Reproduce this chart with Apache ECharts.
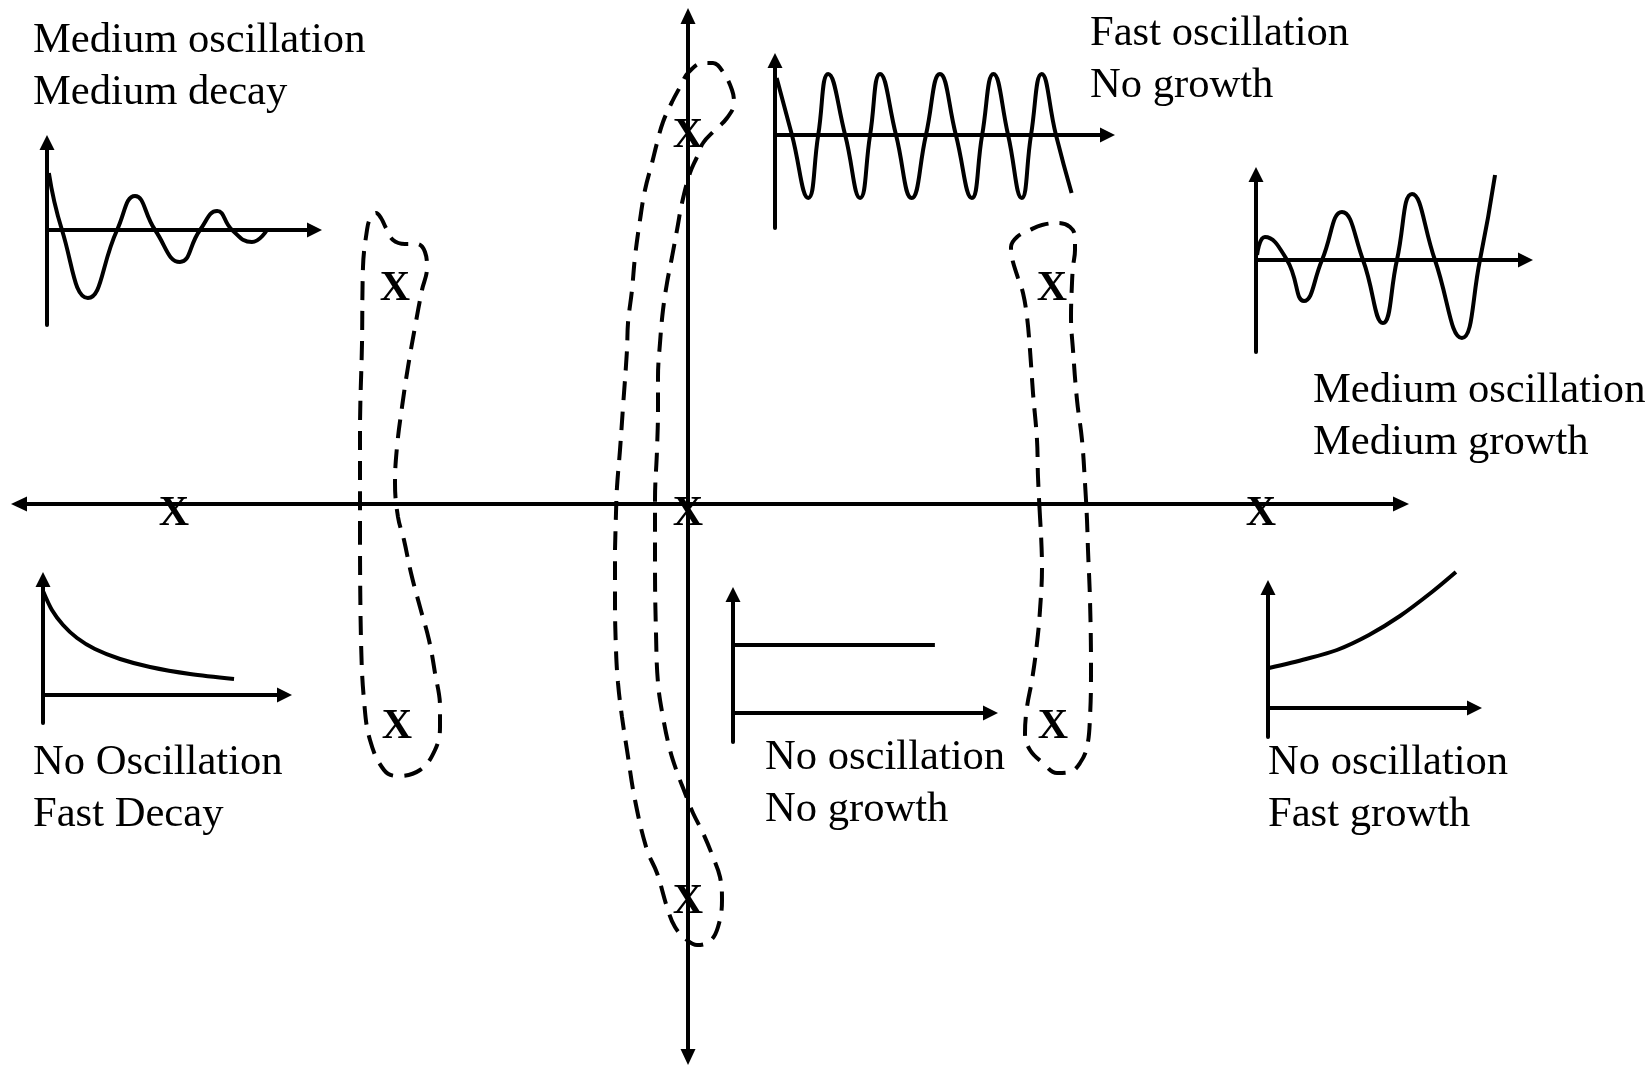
<!DOCTYPE html>
<html>
<head>
<meta charset="utf-8">
<script src="https://cdn.jsdelivr.net/npm/echarts@6/dist/echarts.min.js"></script>
<style>
html,body{margin:0;padding:0;background:#fff;}
#c{width:1651px;height:1066px;}
</style>
</head>
<body>
<div id="c"></div>
<script>
// ---- s-plane data (sigma, omega) ----
const poles = [[-5.14,0],[0,0],[5.73,0],[-2.93,2.25],[-2.91,-2.13],[3.64,2.25],[3.65,-2.13],[0,3.78],[0,-3.88]];
const poleLabel = 'X';

const leftContour = [[-3.28,-0.36],[-3.28,0.71],[-3.26,1.61],[-3.25,2.37],[-3.21,2.74],[-3.18,2.85],[-3.12,2.91],[-3.07,2.86],[-3.02,2.76],[-2.95,2.64],[-2.83,2.60],[-2.71,2.60],[-2.63,2.52],[-2.61,2.36],[-2.66,2.14],[-2.73,1.77],[-2.80,1.37],[-2.86,0.97],[-2.91,0.57],[-2.93,0.21],[-2.90,-0.13],[-2.84,-0.36],[-2.77,-0.69],[-2.68,-1.03],[-2.59,-1.36],[-2.53,-1.69],[-2.48,-2.03],[-2.48,-2.23],[-2.53,-2.46],[-2.68,-2.66],[-2.91,-2.72],[-3.04,-2.66],[-3.18,-2.36],[-3.24,-1.96],[-3.27,-1.36],[-3.28,-0.36]];

const centerContour = [[-0.73,-0.46],[-0.72,-0.09],[-0.71,0.17],[-0.68,0.54],[-0.65,0.97],[-0.61,1.54],[-0.60,1.81],[-0.56,2.14],[-0.53,2.47],[-0.48,2.84],[-0.43,3.14],[-0.36,3.41],[-0.31,3.61],[-0.25,3.82],[-0.16,4.02],[-0.08,4.17],[0,4.31],[0.15,4.41],[0.25,4.41],[0.35,4.32],[0.44,4.14],[0.46,4.01],[0.39,3.86],[0.27,3.74],[0.15,3.61],[0.09,3.47],[0.02,3.31],[-0.06,3.01],[-0.11,2.74],[-0.16,2.47],[-0.21,2.21],[-0.25,1.94],[-0.28,1.61],[-0.30,1.27],[-0.30,0.97],[-0.31,0.54],[-0.33,0.04],[-0.33,-0.63],[-0.32,-1.29],[-0.30,-1.79],[-0.25,-2.13],[-0.18,-2.46],[-0.11,-2.68],[-0.03,-2.89],[0.05,-3.09],[0.15,-3.29],[0.25,-3.53],[0.32,-3.73],[0.34,-3.96],[0.30,-4.23],[0.22,-4.37],[0.09,-4.41],[-0.01,-4.36],[-0.13,-4.23],[-0.21,-4.03],[-0.31,-3.69],[-0.41,-3.46],[-0.53,-2.96],[-0.61,-2.46],[-0.66,-2.13],[-0.70,-1.79],[-0.72,-1.46],[-0.73,-0.96],[-0.73,-0.46]];

const rightContour = [[3.52,-0.13],[3.50,0.27],[3.49,0.64],[3.45,1.11],[3.42,1.54],[3.39,1.87],[3.35,2.11],[3.30,2.26],[3.24,2.46],[3.23,2.57],[3.29,2.67],[3.42,2.74],[3.54,2.79],[3.70,2.81],[3.82,2.77],[3.87,2.67],[3.87,2.54],[3.85,2.37],[3.84,2.21],[3.83,1.87],[3.85,1.54],[3.89,1.04],[3.94,0.64],[3.97,0.21],[3.99,-0.16],[4.00,-0.46],[4.02,-0.96],[4.03,-1.63],[4.02,-2.13],[3.99,-2.43],[3.92,-2.59],[3.82,-2.68],[3.69,-2.69],[3.55,-2.59],[3.42,-2.46],[3.37,-2.29],[3.39,-2.03],[3.44,-1.76],[3.49,-1.39],[3.52,-1.06],[3.54,-0.63],[3.52,-0.13]];

// ---- time responses (t, amplitude) ----
const mediumDecay = [[0.07,0.57],[0.56,0],[1.53,-0.68],[2.62,0],[3.29,0.34],[4.04,0],[4.97,-0.32],[5.72,0],[6.36,0.19],[6.92,0],[7.66,-0.12],[8.22,0]];
const fastOscillation = [[0.05,0.57],[0.51,0],[1.00,-0.63],[1.30,0],[1.60,0.61],[2.11,0],[2.56,-0.63],[2.86,0],[3.16,0.61],[3.64,0],[4.11,-0.63],[4.54,0],[4.96,0.61],[5.44,0],[5.92,-0.63],[6.23,0],[6.57,0.61],[7.01,0],[7.42,-0.63],[7.70,0],[8.02,0.61],[8.45,0],[8.92,-0.58]];
const mediumGrowth = [[0.04,0.05],[0.33,0.23],[1.15,0],[1.78,-0.41],[2.45,0],[3.19,0.48],[3.97,0],[4.71,-0.63],[5.23,0],[5.79,0.66],[6.64,0],[7.64,-0.78],[8.31,0],[8.87,0.85]];
const fastDecay = [[0,1.04],[0.37,0.85],[0.83,0.70],[1.41,0.57],[2.15,0.46],[3.19,0.36],[4.43,0.28],[6.09,0.21],[7.91,0.16]];
const noGrowth = [[0,0.68],[7.84,0.68]];
const fastGrowth = [[0.05,0.40],[1.84,0.49],[3.34,0.58],[4.89,0.73],[6.39,0.92],[7.94,1.16],[9.10,1.36]];

const insetSeries = [mediumDecay, fastOscillation, mediumGrowth, fastDecay, noGrowth, fastGrowth];
const insetSmooth = [0.5, 0.5, 0.5, 0.3, false, 0.3];
const insetYRange = [[-0.95,0.875],[-0.93,0.745],[-0.92,0.855],[-0.28,1.155],[-0.29,1.185],[-0.29,1.205]];

const captions = ['Medium oscillation\nMedium decay','Fast oscillation\nNo growth','Medium oscillation\nMedium growth','No Oscillation\nFast Decay','No oscillation\nNo growth','No oscillation\nFast growth'];

// ---- layout (pixels) ----
const mainLayout = {left:19, top:16, width:1382, height:1041};
const mainRange = {xMin:-6.69, xMax:7.13, yMin:-5.53, yMax:4.88};
const insetLayout = [
  {left:47, top:142.5, width:267.5, height:182.5},
  {left:775, top:60.5, width:332.5, height:167.5},
  {left:1256, top:174.5, width:269.5, height:177.5},
  {left:43, top:579.5, width:241.5, height:143.5},
  {left:733, top:594.5, width:257.5, height:147.5},
  {left:1268, top:587.5, width:206.5, height:149.5}
];
const captionPos = [[33,15],[1090,8],[1313,365],[33,737],[765,732],[1268,737]];

const FONT = 'Liberation Serif';
const BLACK = '#000';

function axisBase(gridIndex, min, max, symbol, size) {
  return {
    type:'value', gridIndex, min, max,
    axisLine:{show:true, onZero:true, symbol, symbolSize:size, lineStyle:{color:BLACK, width:4}},
    axisTick:{show:false}, axisLabel:{show:false}, splitLine:{show:false}
  };
}

const grid = [Object.assign({outerBoundsMode:'none', containLabel:false}, mainLayout)];
const xAxis = [axisBase(0, mainRange.xMin, mainRange.xMax, ['triangle','triangle'], [15,16])];
const yAxis = [axisBase(0, mainRange.yMin, mainRange.yMax, ['triangle','triangle'], [15,16])];

const series = [];
[leftContour, centerContour, rightContour].forEach(function (d) {
  series.push({
    type:'line', xAxisIndex:0, yAxisIndex:0, data:d, smooth:0.4,
    showSymbol:false, clip:false, silent:true,
    lineStyle:{color:BLACK, width:4, type:[19,11]}
  });
});
series.push({
  type:'scatter', xAxisIndex:0, yAxisIndex:0, data:poles, symbolSize:1,
  itemStyle:{color:'rgba(0,0,0,0)', opacity:1}, silent:true, z:5,
  label:{show:true, position:'inside', formatter:poleLabel, offset:[0,10],
    fontFamily:FONT, fontWeight:'bold', fontSize:42, color:BLACK, opacity:1, textBorderWidth:0}
});

insetLayout.forEach(function (g, i) {
  const gi = i + 1;
  grid.push(Object.assign({outerBoundsMode:'none', containLabel:false}, g));
  xAxis.push(axisBase(gi, 0, 10, ['none','triangle'], [15,15]));
  yAxis.push(axisBase(gi, insetYRange[i][0], insetYRange[i][1], ['none','triangle'], [15,15]));
  series.push({
    type:'line', xAxisIndex:gi, yAxisIndex:gi, data:insetSeries[i],
    smooth: insetSmooth[i],
    showSymbol:false, clip:false, silent:true,
    lineStyle:{color:BLACK, width:4}
  });
});

const title = captions.map(function (t, i) {
  return {
    text:t, left:captionPos[i][0], top:captionPos[i][1], padding:0,
    textStyle:{fontFamily:FONT, fontSize:42.6, fontWeight:'normal', lineHeight:52, color:BLACK}
  };
});

const chart = echarts.init(document.getElementById('c'), null, {renderer:'canvas'});
chart.setOption({
  backgroundColor:'#fff',
  animation:false,
  title, grid, xAxis, yAxis, series
});
</script>
</body>
</html>
